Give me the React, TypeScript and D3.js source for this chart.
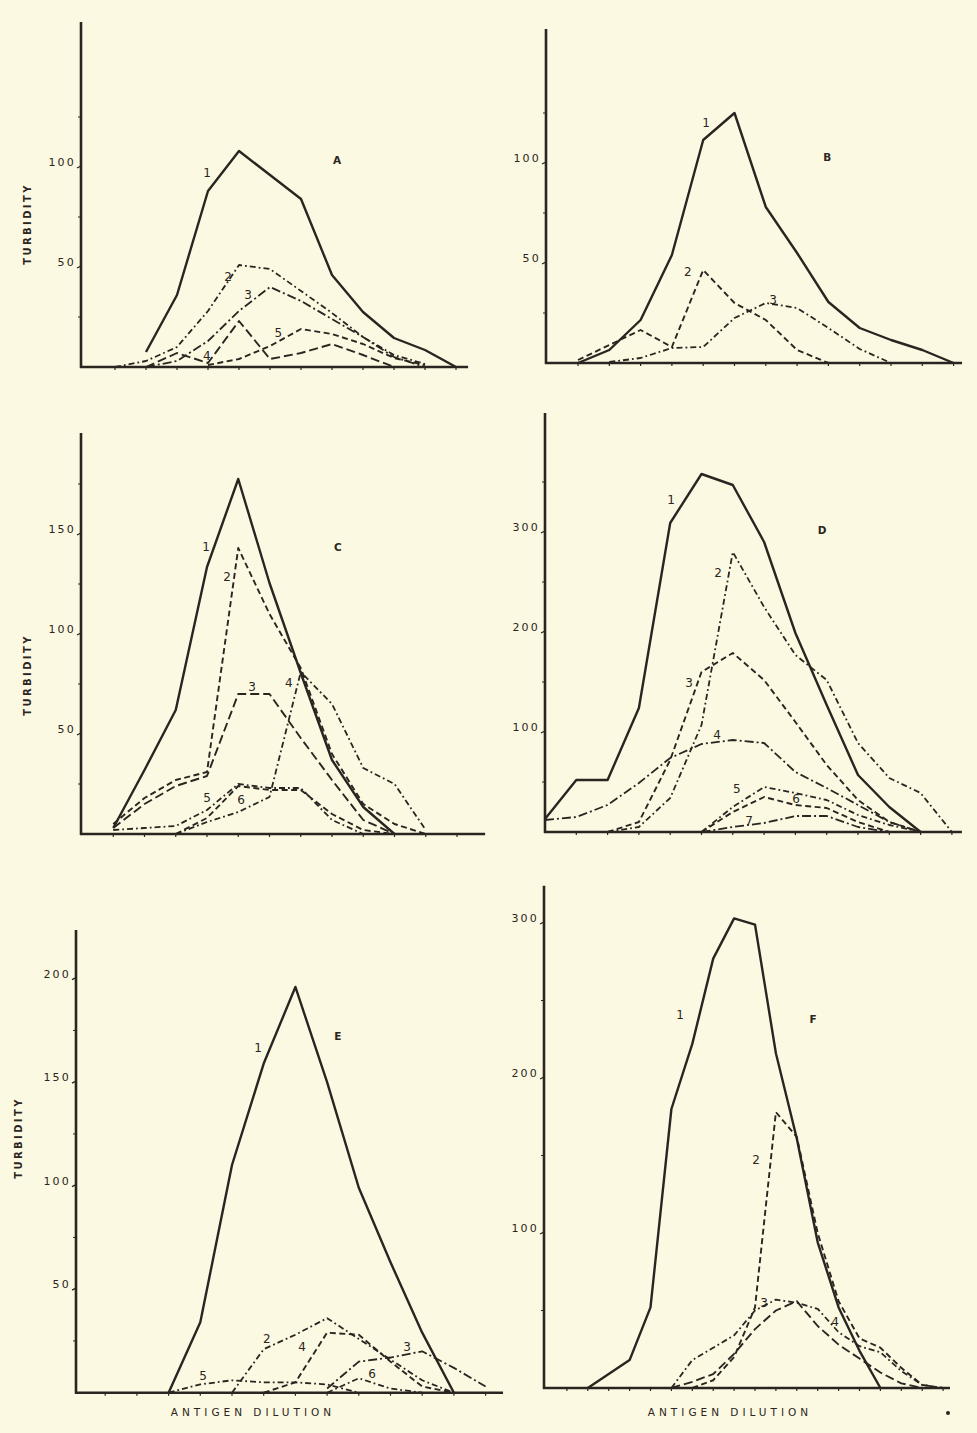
import React from "react";
import * as d3 from "d3";

type V = number | null;
const _ = null;

// ---------- Panel A ----------
const A1: V[] = [_, _, 7.5, 36, 88, 108, 96, 84, 46, 27.5, 14.5, 8.5, 0];
const A2: V[] = [_, 0, 3, 10, 28, 51, 49, 38, 27, 15, 6, 1.5, _];
const A3: V[] = [_, _, 0, 3, 13, 28, 40, 33, 24, 15, 5, 0, _];
const A4: V[] = [_, _, 0, 7, 2, 23, 4, 7, 11.5, 6, 0, _, _];
const A5: V[] = [_, _, _, _, 1, 4, 10.5, 19, 16.5, 11.5, 4.5, 1, _];

// ---------- Panel B ----------
const B1: V[] = [_, 0, 6.5, 21.5, 54, 111.5, 125, 78, 55, 30.5, 17.5, 11.5, 6.5, 0];
const B2: V[] = [_, 1.5, 9, 16.5, 8, 46.5, 30, 21.5, 6.5, 0, _, _, _, _];
const B3: V[] = [_, _, 0.5, 2.5, 7.5, 8, 22.5, 30, 27.5, 17.5, 7, 0, _, _];

// ---------- Panel C ----------
const C1: V[] = [_, 3, 32, 62, 133.5, 177.5, 125.5, 80.5, 37, 13.5, 0, _, _];
const C2: V[] = [_, 5, 18, 27, 31, 143, 110, 83, 40, 15, 5, 0, _];
const C3: V[] = [_, 3, 15, 24, 29, 70, 70, 48, 27, 7, 0, _, _];
const C4: V[] = [_, _, _, 0, 6, 11, 18.5, 81, 65, 33, 25, 2, _];
const C5: V[] = [_, 2, 3, 4, 12, 25, 23, 23, 7, 0, _, _, _];
const C6: V[] = [_, _, _, 0, 8, 24, 22, 22, 10, 2, 0, _, _];

// ---------- Panel D ----------
const D1: V[] = [13, 52, 52, 124, 309, 358, 347, 290, 199, 127, 57, 25, 0, _];
const D2: V[] = [_, _, 0, 5, 34, 107, 280, 225, 177, 152, 89, 54, 39, 0];
const D3: V[] = [_, _, 0, 10, 72, 160, 179, 152, 110, 67, 32, 10, 0, _];
const D4: V[] = [12, 15, 27, 49, 74, 88, 92, 89, 60, 44, 27, 10, 0, _];
const D5: V[] = [_, _, _, _, _, 0, 25, 45, 39, 32, 17, 7, 0, _];
const D6: V[] = [_, _, _, _, _, 0, 20, 35, 27, 24, 10, 0, _, _];
const D7: V[] = [_, _, _, _, _, 0, 5, 9, 16, 16, 5, 0, _, _];

// ---------- Panel E ----------
const E1: V[] = [_, _, _, 0, 34, 110, 159, 196, 150, 99, 63, 29, 0, _];
const E2: V[] = [_, _, _, _, _, 0, 21, 28, 36, 26, 16, 6, 0, _];
const E3: V[] = [_, _, _, _, _, _, _, _, 2, 15, 17, 20, 12, 3];
const E4: V[] = [_, _, _, _, _, _, 0, 5, 29, 28, 15, 3, 0, _];
const E5: V[] = [_, _, _, 0, 4, 6, 5, 5, 4, 0, _, _, _, _];
const E6: V[] = [_, _, _, _, _, _, _, _, 0, 7, 2, 0, _, _];

// ---------- Panel F ----------
const F1: V[] = [_, _, 0, 9, 18, 52, 180, 222, 277, 303, 299, 216, 161, 94, 52, 24, 0, _, _, _];
const F2: V[] = [_, _, _, _, _, _, _, 0, 5, 20, 52, 178, 162, 100, 56, 32, 26, 13, 2, 0];
const F3: V[] = [_, _, _, _, _, _, 0, 18, 26, 34, 50, 57, 55, 51, 36, 27, 23, 11, 2, 0];
const F4: V[] = [_, _, _, _, _, _, 0, 4, 9, 22, 38, 50, 56, 40, 28, 19, 10, 3, 0, _];

// curve number labels (index, value)
const A_labels = [["1", 3.97, 97], ["2", 4.65, 45], ["3", 5.29, 36], ["4", 3.96, 5.5], ["5", 6.27, 17]] as const;
const B_labels = [["1", 5.09, 120], ["2", 4.51, 45.5], ["3", 7.23, 31.5]] as const;
const C_labels = [["1", 3.97, 143.5], ["2", 4.64, 128.5], ["3", 5.44, 73.5], ["4", 6.62, 75.5], ["5", 4.0, 18], ["6", 5.09, 17]] as const;
const D_labels = [["1", 4.03, 332], ["2", 5.53, 259], ["3", 4.6, 149], ["4", 5.5, 97], ["5", 6.13, 43], ["6", 8.02, 33], ["7", 6.52, 11]] as const;
const E_labels = [["1", 5.82, 166.5], ["2", 6.1, 25.5], ["3", 10.52, 22], ["4", 7.21, 21.6], ["5", 4.09, 7.6], ["6", 9.42, 8.6]] as const;
const F_labels = [["1", 6.41, 240.6], ["2", 10.05, 147], ["3", 10.43, 54.8], ["4", 13.83, 42]] as const;

const COLOR = "#2a2521";
const BG = "#fcf9e2";

const STYLES: Record<string, { dash?: string; w: number }> = {
  solid: { w: 2.4 },
  dash: { dash: "6 3.5", w: 1.9 },
  dashLong: { dash: "9 4", w: 1.9 },
  dashDot: { dash: "6 3 1.8 3", w: 1.8 },
  dashDotLong: { dash: "9 3 2 3", w: 1.8 },
};

interface PanelCfg {
  letter: string;
  letterPos: [number, number];
  series: { values: V[]; style: string }[];
  labels: readonly (readonly [string, number, number])[];
  axisX: number;
  x0: number;
  step: number;
  base: number;
  ppu: number;
  yMax: number;
  xEnd: number;
  nTicks: number;
  yLabels: number[];
  yMinor: number[];
  turbidity?: [number, number];
  antigen?: number;
}

const PANELS: PanelCfg[] = [
  {
    letter: "A", letterPos: [8.16, 103],
    series: [
      { values: A1, style: "solid" }, { values: A2, style: "dashDot" }, { values: A3, style: "dashDotLong" },
      { values: A4, style: "dashLong" }, { values: A5, style: "dash" },
    ],
    labels: A_labels, axisX: 81, x0: 84, step: 31, base: 367, ppu: 2, yMax: 172.5, xEnd: 12.39, nTicks: 12,
    yLabels: [50, 100], yMinor: [25, 75, 125], turbidity: [28, 224],
  },
  {
    letter: "B", letterPos: [8.96, 102.5],
    series: [{ values: B1, style: "solid" }, { values: B2, style: "dash" }, { values: B3, style: "dashDot" }],
    labels: B_labels, axisX: 546, x0: 546.7, step: 31.3, base: 363, ppu: 2, yMax: 167, xEnd: 13.27, nTicks: 13,
    yLabels: [50, 100], yMinor: [25, 75, 125],
  },
  {
    letter: "C", letterPos: [8.19, 143],
    series: [
      { values: C1, style: "solid" }, { values: C2, style: "dash" }, { values: C3, style: "dashLong" },
      { values: C4, style: "dashDot" }, { values: C5, style: "dashDot" }, { values: C6, style: "dash" },
    ],
    labels: C_labels, axisX: 81, x0: 82, step: 31.25, base: 834, ppu: 2, yMax: 200.5, xEnd: 12.9, nTicks: 12,
    yLabels: [50, 100, 150], yMinor: [25, 75, 125, 175], turbidity: [28, 675],
  },
  {
    letter: "D", letterPos: [8.85, 301],
    series: [
      { values: D1, style: "solid" }, { values: D2, style: "dashDot" }, { values: D3, style: "dash" },
      { values: D4, style: "dashDotLong" }, { values: D5, style: "dashDot" }, { values: D6, style: "dash" },
      { values: D7, style: "dashDotLong" },
    ],
    labels: D_labels, axisX: 545, x0: 545, step: 31.3, base: 832, ppu: 1, yMax: 419, xEnd: 13.32, nTicks: 13,
    yLabels: [100, 200, 300], yMinor: [50, 150, 250, 350],
  },
  {
    letter: "E", letterPos: [8.34, 171.8],
    series: [
      { values: E1, style: "solid" }, { values: E2, style: "dashDot" }, { values: E3, style: "dashDotLong" },
      { values: E4, style: "dash" }, { values: E5, style: "dashDot" }, { values: E6, style: "dashDot" },
    ],
    labels: E_labels, axisX: 76, x0: 73.5, step: 31.7, base: 1392.7, ppu: 2.07, yMax: 223.5, xEnd: 13.55, nTicks: 13,
    yLabels: [50, 100, 150, 200], yMinor: [25, 75, 125, 175], turbidity: [19, 1138], antigen: 253,
  },
  {
    letter: "F", letterPos: [12.78, 237.4],
    series: [
      { values: F1, style: "solid" }, { values: F2, style: "dash" }, { values: F3, style: "dashDot" },
      { values: F4, style: "dashLong" },
    ],
    labels: F_labels, axisX: 544, x0: 546, step: 20.9, base: 1388, ppu: 1.55, yMax: 324, xEnd: 19.33, nTicks: 19,
    yLabels: [100, 200, 300], yMinor: [50, 150, 250], antigen: 730,
  },
];

const FONT = "'DejaVu Sans', 'Liberation Sans', sans-serif";

function Panel({ cfg }: { cfg: PanelCfg }) {
  const x = d3.scaleLinear().domain([0, 1]).range([cfg.x0, cfg.x0 + cfg.step]);
  const y = d3.scaleLinear().domain([0, 100]).range([cfg.base, cfg.base - 100 * cfg.ppu]);
  const line = d3
    .line<[number, V]>()
    .defined((d) => d[1] !== null)
    .x((d) => x(d[0]))
    .y((d) => y(d[1] as number));
  const yTop = y(cfg.yMax);
  return (
    <g>
      {cfg.series.map((s, k) => {
        const st = STYLES[s.style];
        const pts = s.values.map((v, i) => [i, v] as [number, V]);
        return (
          <path
            key={k}
            d={line(pts) || ""}
            fill="none"
            stroke={COLOR}
            strokeWidth={st.w}
            strokeDasharray={st.dash}
            strokeLinejoin="round"
          />
        );
      })}
      <line x1={cfg.axisX} x2={cfg.axisX} y1={cfg.base + 1} y2={yTop} stroke={COLOR} strokeWidth={2.6} />
      <line x1={cfg.axisX - 1} x2={x(cfg.xEnd)} y1={cfg.base} y2={cfg.base} stroke={COLOR} strokeWidth={2.6} />
      {d3.range(1, cfg.nTicks + 1).map((i) => (
        <line key={"xt" + i} x1={x(i)} x2={x(i)} y1={cfg.base} y2={cfg.base + 3} stroke={COLOR} strokeWidth={1.2} />
      ))}
      {cfg.yMinor.map((v) => (
        <line key={"ym" + v} x1={cfg.axisX - 3} x2={cfg.axisX} y1={y(v)} y2={y(v)} stroke={COLOR} strokeWidth={1} />
      ))}
      {cfg.yLabels.map((v) => (
        <g key={"yl" + v}>
          <line x1={cfg.axisX - 4} x2={cfg.axisX} y1={y(v) + 1} y2={y(v) - 1} stroke={COLOR} strokeWidth={1.3} />
          <text
            x={cfg.axisX - 5}
            y={y(v) - 1}
            textAnchor="end"
            fontSize={11}
            letterSpacing={2.2}
            fill={COLOR}
            fontFamily={FONT}
          >
            {v}
          </text>
        </g>
      ))}
      {cfg.labels.map(([t, i, v], k) => (
        <text
          key={"lb" + k}
          x={x(i)}
          y={y(v)}
          textAnchor="middle"
          dominantBaseline="middle"
          fontSize={12}
          fill={COLOR}
          fontFamily={FONT}
        >
          {t}
        </text>
      ))}
      <text
        x={x(cfg.letterPos[0])}
        y={y(cfg.letterPos[1])}
        textAnchor="middle"
        dominantBaseline="middle"
        fontSize={10.5}
        fontWeight="bold"
        fill={COLOR}
        fontFamily={FONT}
      >
        {cfg.letter}
      </text>
      {cfg.turbidity && (
        <text
          transform={`translate(${cfg.turbidity[0]},${cfg.turbidity[1]}) rotate(-90)`}
          textAnchor="middle"
          dominantBaseline="middle"
          fontSize={10}
          fontWeight="bold"
          letterSpacing={2.4}
          fill={COLOR}
          fontFamily={FONT}
        >
          TURBIDITY
        </text>
      )}
      {cfg.antigen !== undefined && (
        <text
          x={cfg.antigen}
          y={1413}
          textAnchor="middle"
          dominantBaseline="middle"
          fontSize={10.5}
          letterSpacing={4}
          fill={COLOR}
          fontFamily={FONT}
        >
          ANTIGEN DILUTION
        </text>
      )}
    </g>
  );
}

export default function App() {
  return (
    <svg
      width={977}
      height={1433}
      viewBox="0 0 977 1433"
      style={{ position: "absolute", left: 0, top: 0, display: "block" }}
    >
      <rect x={0} y={0} width={977} height={1433} fill={BG} />
      {PANELS.map((p) => (
        <Panel key={p.letter} cfg={p} />
      ))}
      <circle cx={948} cy={1413} r={2} fill={COLOR} />
    </svg>
  );
}
